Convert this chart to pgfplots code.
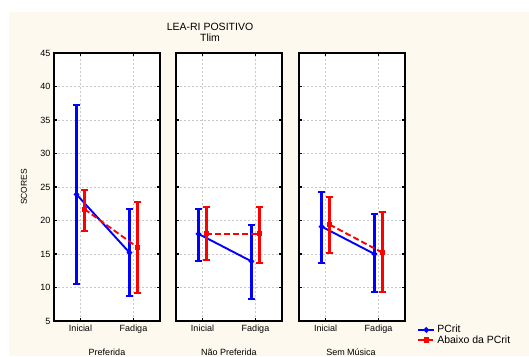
\documentclass[border=0pt]{standalone}
\usepackage{fontspec}
\setmainfont{Liberation Sans}
\usepackage{pgfplots}
\pgfplotsset{compat=1.18}
\usepackage{pgfplotstable}
\definecolor{cream}{RGB}{253,249,238}
\definecolor{gridgray}{RGB}{200,200,200}

% x = category position (0 Inicial, 1 Fadiga) with side offset, y = mean
\pgfplotstableread{
x y
-0.075 23.9
0.925 15.2
}\pAblue
\pgfplotstableread{
x y
0.075 21.7
1.075 16.0
}\pAred
\pgfplotstableread{
x y
-0.075 18.0
0.925 13.9
}\pBblue
\pgfplotstableread{
x y
0.075 18.0
1.075 18.0
}\pBred
\pgfplotstableread{
x y
-0.075 19.1
0.925 15.0
}\pCblue
\pgfplotstableread{
x y
0.075 19.4
1.075 15.2
}\pCred

\pgfplotsset{
  panel/.style={
    scale only axis, width=106pt, height=268pt,
    anchor=south west,
    xmin=-0.5, xmax=1.5, ymin=5, ymax=45,
    xtick={0,1}, xticklabels={Inicial,Fadiga},
    ytick={5,10,...,45},
    axis line style={line width=1.6pt},
    tick style={black, line width=1.2pt},
    major tick length=3pt,
    tick align=inside,
    grid=major,
    major grid style={gridgray, dash pattern=on 2pt off 2pt, line width=0.5pt},
    tick label style={font=\fontsize{9}{10}\selectfont},
    /pgf/number format/assume math mode=true,
    axis background/.style={fill=white},
    clip=false,
  },
  blueline/.style={blue, line width=1.9pt, mark=*, mark size=1.7pt},
  redline/.style={red, line width=1.9pt, dash pattern=on 6pt off 3pt, mark=square*, mark size=1.6pt,
    mark options={solid}},
  errblue/.style={blue, line width=2.4pt, mark=-, mark size=3.5pt, mark options={line width=2pt}, forget plot},
  errred/.style={red, line width=2.4pt, mark=-, mark size=3.5pt, mark options={line width=2pt}, forget plot},
}

\begin{document}
\begin{tikzpicture}[x=1pt,y=1pt]
\path[use as bounding box] (0,0) rectangle (529,356);
\fill[white] (0,0) rectangle (529,356);
\fill[cream] (9,0) rectangle (529,344);

\begin{axis}[panel, at={(54pt,35pt)}]
\addplot[errblue] coordinates {(-0.075,10.5) (-0.075,37.2)};
\addplot[errblue] coordinates {(0.925,8.7) (0.925,21.7)};
\addplot[blueline] table[x=x,y=y] {\pAblue};
\addplot[errred] coordinates {(0.075,18.4) (0.075,24.6)};
\addplot[errred] coordinates {(1.075,9.2) (1.075,22.8)};
\addplot[redline] table[x=x,y=y] {\pAred};
\end{axis}

\begin{axis}[panel, at={(176pt,35pt)}, yticklabels={}]
\addplot[errblue] coordinates {(-0.075,14.0) (-0.075,21.7)};
\addplot[errblue] coordinates {(0.925,8.3) (0.925,19.4)};
\addplot[blueline] table[x=x,y=y] {\pBblue};
\addplot[errred] coordinates {(0.075,14.1) (0.075,22.0)};
\addplot[errred] coordinates {(1.075,13.6) (1.075,22.0)};
\addplot[redline] table[x=x,y=y] {\pBred};
\end{axis}

\begin{axis}[panel, at={(299pt,35pt)}, yticklabels={},
  legend style={at={(1.115,-0.008)}, anchor=north west, draw=none, fill=none,
    font=\fontsize{10.5}{11}\selectfont, row sep=-3pt, inner sep=0pt},
  legend cell align=left,
  legend image code/.code={\draw[#1] plot coordinates {(0pt,0pt) (8pt,0pt) (16pt,0pt)};}
]
\addplot[errblue] coordinates {(-0.075,13.7) (-0.075,24.3)};
\addplot[errblue] coordinates {(0.925,9.3) (0.925,20.9)};
\addplot[blueline, forget plot] table[x=x,y=y] {\pCblue};
\addplot[errred] coordinates {(0.075,15.2) (0.075,23.5)};
\addplot[errred] coordinates {(1.075,9.3) (1.075,21.2)};
\addplot[redline, forget plot] table[x=x,y=y] {\pCred};
\addlegendimage{blue, line width=1.9pt, mark=*, mark size=1.7pt, mark repeat=2, mark phase=2}
\addlegendentry{PCrit}
\addlegendimage{red, line width=1.9pt, dash pattern=on 6pt off 3pt, mark=square*, mark size=1.6pt, mark options={solid}, mark repeat=2, mark phase=2}
\addlegendentry{Abaixo da PCrit}
\end{axis}

\node[font=\fontsize{10.5}{11}\selectfont] at (210,329) {LEA-RI POSITIVO};
\node[font=\fontsize{10.5}{11}\selectfont] at (210,318) {Tlim};
\node[font=\fontsize{8.5}{9}\selectfont, rotate=90] at (24,169) {SCORES};
\node[font=\fontsize{9}{10}\selectfont] at (107,4) {Preferida};
\node[font=\fontsize{9}{10}\selectfont] at (229,4) {Não Preferida};
\node[font=\fontsize{9}{10}\selectfont] at (351,4) {Sem Música};
\end{tikzpicture}
\end{document}
